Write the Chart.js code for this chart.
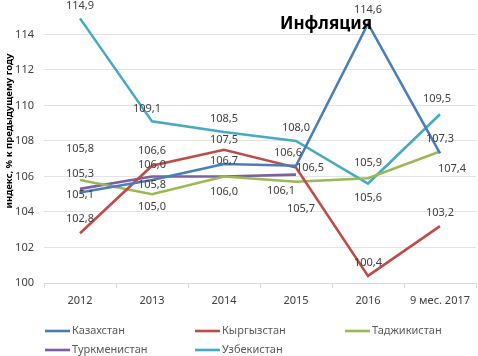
<!DOCTYPE html>
<html>
<head>
<meta charset="utf-8">
<script src="https://cdn.jsdelivr.net/npm/chart.js@4"></script>
<style>
html,body{margin:0;padding:0;background:#fff;}
#wrap{position:relative;width:478px;height:356px;}
</style>
</head>
<body>
<div id="wrap"><canvas id="c" width="478" height="356"></canvas></div>
<script>
// ---- data ----
const categories = ["2012", "2013", "2014", "2015", "2016", "9 мес. 2017"];
const kazakhstan   = [105.1, 105.8, 106.7, 106.6, 114.6, 107.3];
const kyrgyzstan   = [102.8, 106.6, 107.5, 106.5, 100.4, 103.2];
const tajikistan   = [105.8, 105.0, 106.0, 105.7, 105.9, 107.4];
const turkmenistan = [105.3, 106.0, 106.0, 106.1, null, null];
const uzbekistan   = [114.9, 109.1, 108.5, 108.0, 105.6, 109.5];
const seriesNames  = ["Казахстан", "Кыргызстан", "Таджикистан", "Туркменистан", "Узбекистан"];
const yTicks = [100, 102, 104, 106, 108, 110, 112, 114];
const chartTitle = "Инфляция";
const yTitle = "индекс, % к предыдущему году";

// ---- styles ----
const colors = ["#4A7EBB", "#BE4B48", "#98B954", "#7D60A0", "#46AAC5"];
// label offsets [dx, dy] relative to the point (null = no label)
const labelOffsets = [
  [[0,2],[0,5],[0,-3],[-8,-13],[0,-14],[0,-14]],
  [[0,-14],[0,-15],[0,-10],[14,0],[0,-13],[0,-13]],
  [[0,-31],[0,13],[0,15],[5,27],[0,-15],[12,17]],
  [[0,-15],[0,-12],null,[-15,16],null,null],
  [[0,-13],[-5,-13],[0,-13],[0,-13],[0,14],[-3,-15]]
];
const allSeries = [kazakhstan, kyrgyzstan, tajikistan, turkmenistan, uzbekistan];
const FONT = "'Noto Sans', sans-serif";

const datasets = allSeries.map((d, i) => ({
  label: seriesNames[i],
  data: d,
  borderColor: colors[i],
  backgroundColor: colors[i],
  borderWidth: 2.6,
  pointRadius: 0,
  tension: 0,
  spanGaps: false
}));

const labelPlugin = {
  id: 'labels',
  afterDatasetsDraw(chart) {
    const ctx = chart.ctx;
    ctx.save();
    ctx.font = "11px " + FONT;
    ctx.fillStyle = "#404040";
    ctx.textAlign = "center";
    ctx.textBaseline = "middle";
    chart.data.datasets.forEach((ds, i) => {
      const meta = chart.getDatasetMeta(i);
      meta.data.forEach((pt, j) => {
        const v = ds.data[j];
        const off = labelOffsets[i][j];
        if (v == null || !off) return;
        ctx.fillText(v.toFixed(1).replace('.', ','), pt.x + off[0], pt.y + off[1]);
      });
    });
    ctx.restore();
  }
};

const decorPlugin = {
  id: 'decor',
  afterDraw(chart) {
    const ctx = chart.ctx;
    ctx.save();
    // title
    ctx.font = "bold 17px " + FONT;
    ctx.fillStyle = "#000";
    ctx.textAlign = "center";
    ctx.textBaseline = "middle";
    ctx.fillText(chartTitle, 326, 24);
    // y title
    ctx.save();
    ctx.translate(9, 131);
    ctx.rotate(-Math.PI / 2);
    ctx.font = "bold 9.5px " + FONT;
    ctx.fillStyle = "#000";
    ctx.fillText(yTitle, 0, 0);
    ctx.restore();
    // legend
    const pos = [[45, 331], [195, 331], [345, 331], [45, 350], [195, 350]];
    ctx.font = "11px " + FONT;
    ctx.fillStyle = "#595959";
    ctx.textAlign = "left";
    chart.data.datasets.forEach((ds, i) => {
      const [x, y] = pos[i];
      ctx.strokeStyle = ds.borderColor;
      ctx.lineWidth = 2.6;
      ctx.beginPath();
      ctx.moveTo(x, y);
      ctx.lineTo(x + 25, y);
      ctx.stroke();
      ctx.fillText(ds.label, x + 27, y);
    });
    ctx.restore();
  }
};

new Chart(document.getElementById('c'), {
  type: 'line',
  data: { labels: categories, datasets },
  plugins: [labelPlugin, decorPlugin],
  options: {
    responsive: false,
    animation: false,
    layout: { padding: { left: 0, right: 2, top: 15, bottom: 45 } },
    plugins: { legend: { display: false }, title: { display: false }, tooltip: { enabled: false } },
    scales: {
      x: {
        offset: true,
        grid: { display: true, drawOnChartArea: false, offset: true, tickLength: 5, color: "#D9D9D9" },
        border: { display: true, color: "#D9D9D9" },
        ticks: { color: "#404040", font: { family: FONT, size: 11 }, padding: 6, maxRotation: 0, autoSkip: false },
        afterFit(s) { s.height = 28; }
      },
      y: {
        min: 100, max: 115,
        grid: { color: "#E3E3E3", drawTicks: false },
        border: { display: false },
        ticks: { color: "#404040", font: { family: FONT, size: 11 }, padding: 10, stepSize: 2 },
        afterBuildTicks(s) { s.ticks = yTicks.map(v => ({ value: v })); },
        afterFit(s) { s.width = 44; }
      }
    }
  }
});
</script>
</body>
</html>
